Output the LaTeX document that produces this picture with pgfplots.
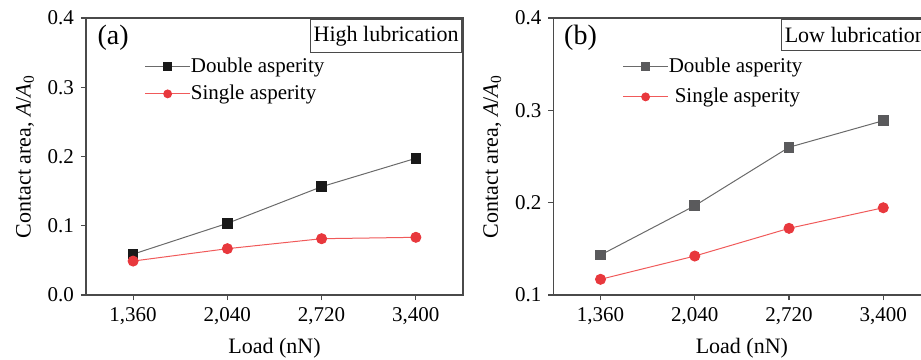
\documentclass[border=0pt]{standalone}
\usepackage{fontspec}
\setmainfont{Liberation Serif}
\usepackage{pgfplots}
\pgfplotsset{compat=1.18}
\definecolor{mred}{HTML}{E8383D}
\definecolor{lred}{HTML}{F05A5A}
\definecolor{lgray}{HTML}{6A6A6A}
\definecolor{mgray}{HTML}{5A5A5C}
\definecolor{axgray}{HTML}{4A4A4A}
\begin{document}
\begin{tikzpicture}[x=1pt,y=1pt]
\pgfplotsset{
 common/.style={
  scale only axis, width=188.5pt, height=138.5pt, anchor=south west,
  xmin=-0.5, xmax=3.5, xtick={0,1,2,3},
  xticklabels={{1,360},{2,040},{2,720},{3,400}},
  axis line style={axgray, line width=0.6pt},
  tick style={axgray, line width=0.6pt}, tick align=outside, major tick length=2.5pt,
  xtick pos=bottom, ytick pos=left,
  /pgf/number format/assume math mode=true,
  ticklabel style={font=\fontsize{10.5}{12}\selectfont},
  yticklabel style={/pgf/number format/fixed, /pgf/number format/fixed zerofill, /pgf/number format/precision=1},
  label style={font=\fontsize{11}{13}\selectfont},
  xlabel={Load (nN)},
  ylabel={Contact area, \textit{A}/\textit{A}$_{\mathrm{0}}$},
  legend style={draw=none, fill=none, anchor=north west, inner sep=0pt, font=\fontsize{10.5}{12}\selectfont, cells={anchor=west}, row sep=3pt, nodes={inner xsep=0pt, inner ysep=1pt}},
  legend image code/.code={\draw[mark repeat=2,mark phase=2, mark size=1.9pt, line width=0.6pt] plot coordinates {(0pt,0pt)(11.3pt,0pt)(22.6pt,0pt)};},
 }
}
\begin{axis}[common, at={(43pt,32pt)}, ymin=0, ymax=0.4, ytick={0,0.1,0.2,0.3,0.4},
  legend style={at={(rel axis cs:0.154,0.866)}}]
\addplot[lgray, line width=0.5pt, mark=square*, mark size=2.4pt, mark options={fill=black!90, draw=black!90}]
 coordinates {(0,0.059) (1,0.1035) (2,0.1564) (3,0.1974)};
\addlegendentry{Double asperity}
\addplot[lred, line width=0.5pt, mark=*, mark size=2.5pt, mark options={fill=mred, draw=mred}]
 coordinates {(0,0.049) (1,0.0669) (2,0.0813) (3,0.0833)};
\addlegendentry{Single asperity}
\node[font=\fontsize{14}{16}\selectfont] at (rel axis cs:0.072,0.928) {(a)};
\node[draw=axgray, line width=0.5pt, anchor=north east, font=\fontsize{11}{13}\selectfont, inner xsep=1.5pt, minimum height=15.5pt] at ([xshift=-0.5pt,yshift=-0.5pt]rel axis cs:1,1) {High lubrication};
\end{axis}
\begin{axis}[common, at={(276.7pt,32pt)}, ymin=0.1, ymax=0.4, ytick={0.1,0.2,0.3,0.4},
  legend style={at={(rel axis cs:0.182,0.866)}, row sep=4.5pt}]
\addplot[lgray, line width=0.5pt, mark=square*, mark size=2.4pt, mark options={fill=mgray, draw=mgray}]
 coordinates {(0,0.1433) (1,0.1967) (2,0.260) (3,0.2888)};
\addlegendentry{Double asperity}
\addplot[lred, line width=0.5pt, mark=*, mark size=2.5pt, mark options={fill=mred, draw=mred}]
 coordinates {(0,0.117) (1,0.1422) (2,0.1722) (3,0.1945)};
\addlegendentry{\hspace{3pt}Single asperity}
\node[font=\fontsize{14}{16}\selectfont] at (rel axis cs:0.072,0.928) {(b)};
\node[draw=axgray, line width=0.5pt, anchor=north east, font=\fontsize{11}{13}\selectfont, inner xsep=1.5pt, minimum height=15.5pt] at ([xshift=-0.5pt,yshift=-0.5pt]rel axis cs:1,1) {Low lubrication};
\end{axis}
\pgfresetboundingbox
\useasboundingbox (0,0) rectangle (460.5pt,179.5pt);
\end{tikzpicture}
\end{document}
